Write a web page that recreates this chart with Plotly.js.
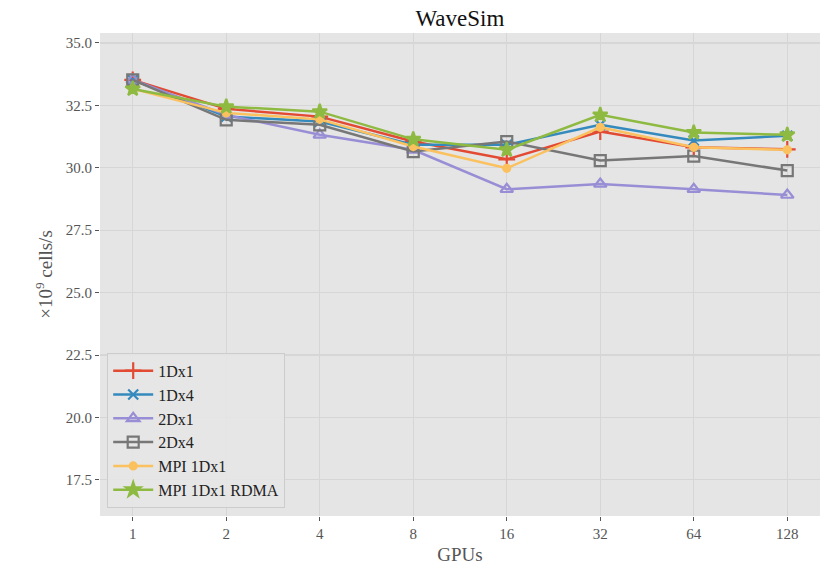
<!DOCTYPE html>
<html><head><meta charset="utf-8">
<script src="https://cdn.plot.ly/plotly-3.0.1.min.js"></script>
<style>body{margin:0;background:#fff}#c{width:825px;height:569px}</style>
</head><body><div id="c"></div>
<script>
const gpus = ['1','2','4','8','16','32','64','128'];
const s1Dx1 = [33.52, 32.36, 32.05, 31.05, 30.34, 31.45, 30.82, 30.74];
const s1Dx4 = [33.52, 32.05, 31.85, 30.92, 30.92, 31.72, 31.09, 31.28];
const s2Dx1 = [33.52, 32.12, 31.32, 30.72, 29.14, 29.35, 29.14, 28.91];
const s2Dx4 = [33.52, 31.92, 31.72, 30.65, 31.05, 30.29, 30.47, 29.89];
const sMPI = [33.16, 32.20, 31.94, 30.85, 29.98, 31.62, 30.82, 30.72];
const sRDMA = [33.16, 32.45, 32.25, 31.14, 30.72, 32.12, 31.41, 31.32];
const names = ['1Dx1','1Dx4','2Dx1','2Dx4','MPI 1Dx1','MPI 1Dx1 RDMA'];
const yTicks = [17.5, 20, 22.5, 25, 27.5, 30, 32.5, 35];
const yTickText = ['17.5','20.0','22.5','25.0','27.5','30.0','32.5','35.0'];

const font = 'Liberation Serif, DejaVu Serif, serif';
const specs = [
  {y:s1Dx1, c:'#E24A33', m:'cross-thin', sz:12},
  {y:s1Dx4, c:'#348ABD', m:'x-thin', sz:10},
  {y:s2Dx1, c:'#988ED5', m:'triangle-up-open', sz:11},
  {y:s2Dx4, c:'#777777', m:'square-open', sz:11},
  {y:sMPI, c:'#FBC15E', m:'circle', sz:7},
  {y:sRDMA, c:'#8EBA42', m:'star', sz:11}
];
const traces = specs.map((s,i)=>({
  x: gpus, y: s.y, name: names[i], type:'scatter', mode:'lines+markers',
  line:{color:s.c, width:2.5},
  marker:{symbol:s.m, size:s.sz, color:s.c, line:{color:s.c, width:2.2}}
}));
const layout = {
  width:825, height:569,
  margin:{l:100, r:5, t:33, b:53},
  paper_bgcolor:'#ffffff', plot_bgcolor:'#E5E5E5',
  font:{family:font, color:'#555555', size:15},
  title:{text:'WaveSim', x:0.5575, xanchor:'center', y:0.968, yanchor:'middle', font:{family:font, size:23, color:'#111111'}},
  showlegend:true,
  legend:{x:0.01, y:0.017, xanchor:'left', yanchor:'bottom', bgcolor:'rgba(229,229,229,0.9)', bordercolor:'#cccccc', borderwidth:1, font:{family:font, size:16, color:'#222222'}, tracegroupgap:0, itemwidth:40},
  xaxis:{type:'category', range:[-0.35,7.35], showgrid:true, gridcolor:'#d6d6d6', gridwidth:1.2, zeroline:false,
    ticks:'outside', ticklen:4, tickcolor:'#555555', tickfont:{family:font, size:15, color:'#555555'},
    title:{text:'GPUs', font:{family:font, size:19, color:'#555555'}, standoff:6}, showline:false},
  yaxis:{range:[16.05,35.4], tickvals:yTicks, ticktext:yTickText,
    showgrid:true, gridcolor:'#d6d6d6', gridwidth:1.2, zeroline:false,
    ticks:'outside', ticklen:4, tickcolor:'#555555', tickfont:{family:font, size:15, color:'#555555'},
    title:{text:'×10<sup>9</sup> cells/s', font:{family:font, size:19, color:'#555555'}, standoff:8}, showline:false}
};
Plotly.newPlot('c', traces, layout, {displayModeBar:false, staticPlot:true});
</script></body></html>
